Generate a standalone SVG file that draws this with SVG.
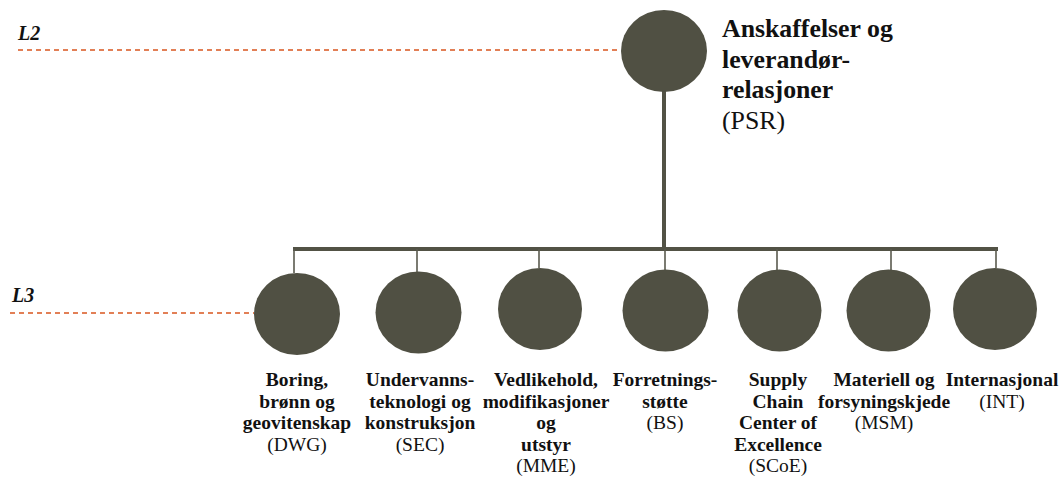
<svg xmlns="http://www.w3.org/2000/svg" width="1061" height="479" viewBox="0 0 1061 479">
  <style>
    .node { fill: #505043; }
    .level { stroke: #d9561f; stroke-width: 1.3; stroke-dasharray: 5 4; fill: none; }
    text { font-family: 'Liberation Serif', 'DejaVu Serif', serif; fill: #111; }
    .lvl-label { font-size: 20px; font-weight: bold; font-style: italic; }
    .trunk { stroke: #525245; stroke-width: 4; fill: none; }
    .drop { stroke: #5a5a4e; stroke-width: 1.6; fill: none; }
    .title { font-size: 25.8px; }
    .lbl { font-size: 19.5px; text-anchor: middle; }
    .b { font-weight: bold; }
  </style>
  <rect width="1061" height="479" fill="#ffffff"/>

  <!-- level guides -->
  <g id="levels">
    <line class="level" x1="18" y1="50" x2="621" y2="50"/>
    <text class="lvl-label" x="18" y="40">L2</text>
    <line class="level" x1="10" y1="313" x2="254" y2="313"/>
    <text class="lvl-label" x="12" y="302">L3</text>
  </g>

  <!-- connectors -->
  <g id="connectors">
    <line class="trunk" x1="664" y1="90" x2="664" y2="249"/>
    <line class="trunk" x1="293" y1="249" x2="998" y2="249"/>
    <line class="drop" x1="294" y1="249" x2="294" y2="273"/>
    <line class="drop" x1="417" y1="249" x2="417" y2="272"/>
    <line class="drop" x1="539" y1="249" x2="539" y2="268"/>
    <line class="drop" x1="665" y1="249" x2="665" y2="270"/>
    <line class="drop" x1="777" y1="249" x2="777" y2="270"/>
    <line class="drop" x1="891" y1="249" x2="891" y2="270"/>
    <line class="drop" x1="996" y1="249" x2="996" y2="268"/>
  </g>

  <!-- L2 -->
  <g id="node-psr">
    <ellipse class="node" cx="664" cy="51" rx="43" ry="41"/>
    <text class="title" x="722" y="37"><tspan class="b">Anskaffelser og</tspan><tspan class="b" x="722" y="67.5">leverandør-</tspan><tspan class="b" x="722" y="98">relasjoner</tspan><tspan x="722" y="128.5">(PSR)</tspan></text>
  </g>

  <!-- L3 -->
  <g id="node-dwg">
    <ellipse class="node" cx="297" cy="314" rx="43" ry="41"/>
    <text class="lbl" x="297" y="386"><tspan class="b">Boring,</tspan><tspan class="b" x="297" y="407.5">brønn og</tspan><tspan class="b" x="297" y="429">geovitenskap</tspan><tspan x="297" y="450.5">(DWG)</tspan></text>
  </g>
  <g id="node-sec">
    <ellipse class="node" cx="418.5" cy="312.5" rx="43" ry="41"/>
    <text class="lbl" x="420" y="386"><tspan class="b">Undervanns-</tspan><tspan class="b" x="420" y="407.5">teknologi og</tspan><tspan class="b" x="420" y="429">konstruksjon</tspan><tspan x="420" y="450.5">(SEC)</tspan></text>
  </g>
  <g id="node-mme">
    <ellipse class="node" cx="540" cy="309" rx="42" ry="41"/>
    <text class="lbl" x="546" y="386"><tspan class="b">Vedlikehold,</tspan><tspan class="b" x="546" y="407.5">modifikasjoner</tspan><tspan class="b" x="546" y="429">og</tspan><tspan class="b" x="546" y="450.5">utstyr</tspan><tspan x="546" y="472">(MME)</tspan></text>
  </g>
  <g id="node-bs">
    <ellipse class="node" cx="665.5" cy="310.5" rx="43" ry="41"/>
    <text class="lbl" x="665" y="386"><tspan class="b">Forretnings-</tspan><tspan class="b" x="665" y="407.5">støtte</tspan><tspan x="665" y="429">(BS)</tspan></text>
  </g>
  <g id="node-scoe">
    <ellipse class="node" cx="779.5" cy="310.5" rx="42" ry="41"/>
    <text class="lbl" x="778" y="386"><tspan class="b">Supply</tspan><tspan class="b" x="778" y="407.5">Chain</tspan><tspan class="b" x="778" y="429">Center of</tspan><tspan class="b" x="778" y="450.5">Excellence</tspan><tspan x="778" y="472">(SCoE)</tspan></text>
  </g>
  <g id="node-msm">
    <ellipse class="node" cx="888.5" cy="310.5" rx="42" ry="41"/>
    <text class="lbl" x="884" y="386"><tspan class="b">Materiell og</tspan><tspan class="b" x="884" y="407.5">forsyningskjede</tspan><tspan x="884" y="429">(MSM)</tspan></text>
  </g>
  <g id="node-int">
    <ellipse class="node" cx="995" cy="309" rx="42" ry="41"/>
    <text class="lbl" x="1002" y="386"><tspan class="b">Internasjonal</tspan><tspan x="1002" y="407.5">(INT)</tspan></text>
  </g>
</svg>
